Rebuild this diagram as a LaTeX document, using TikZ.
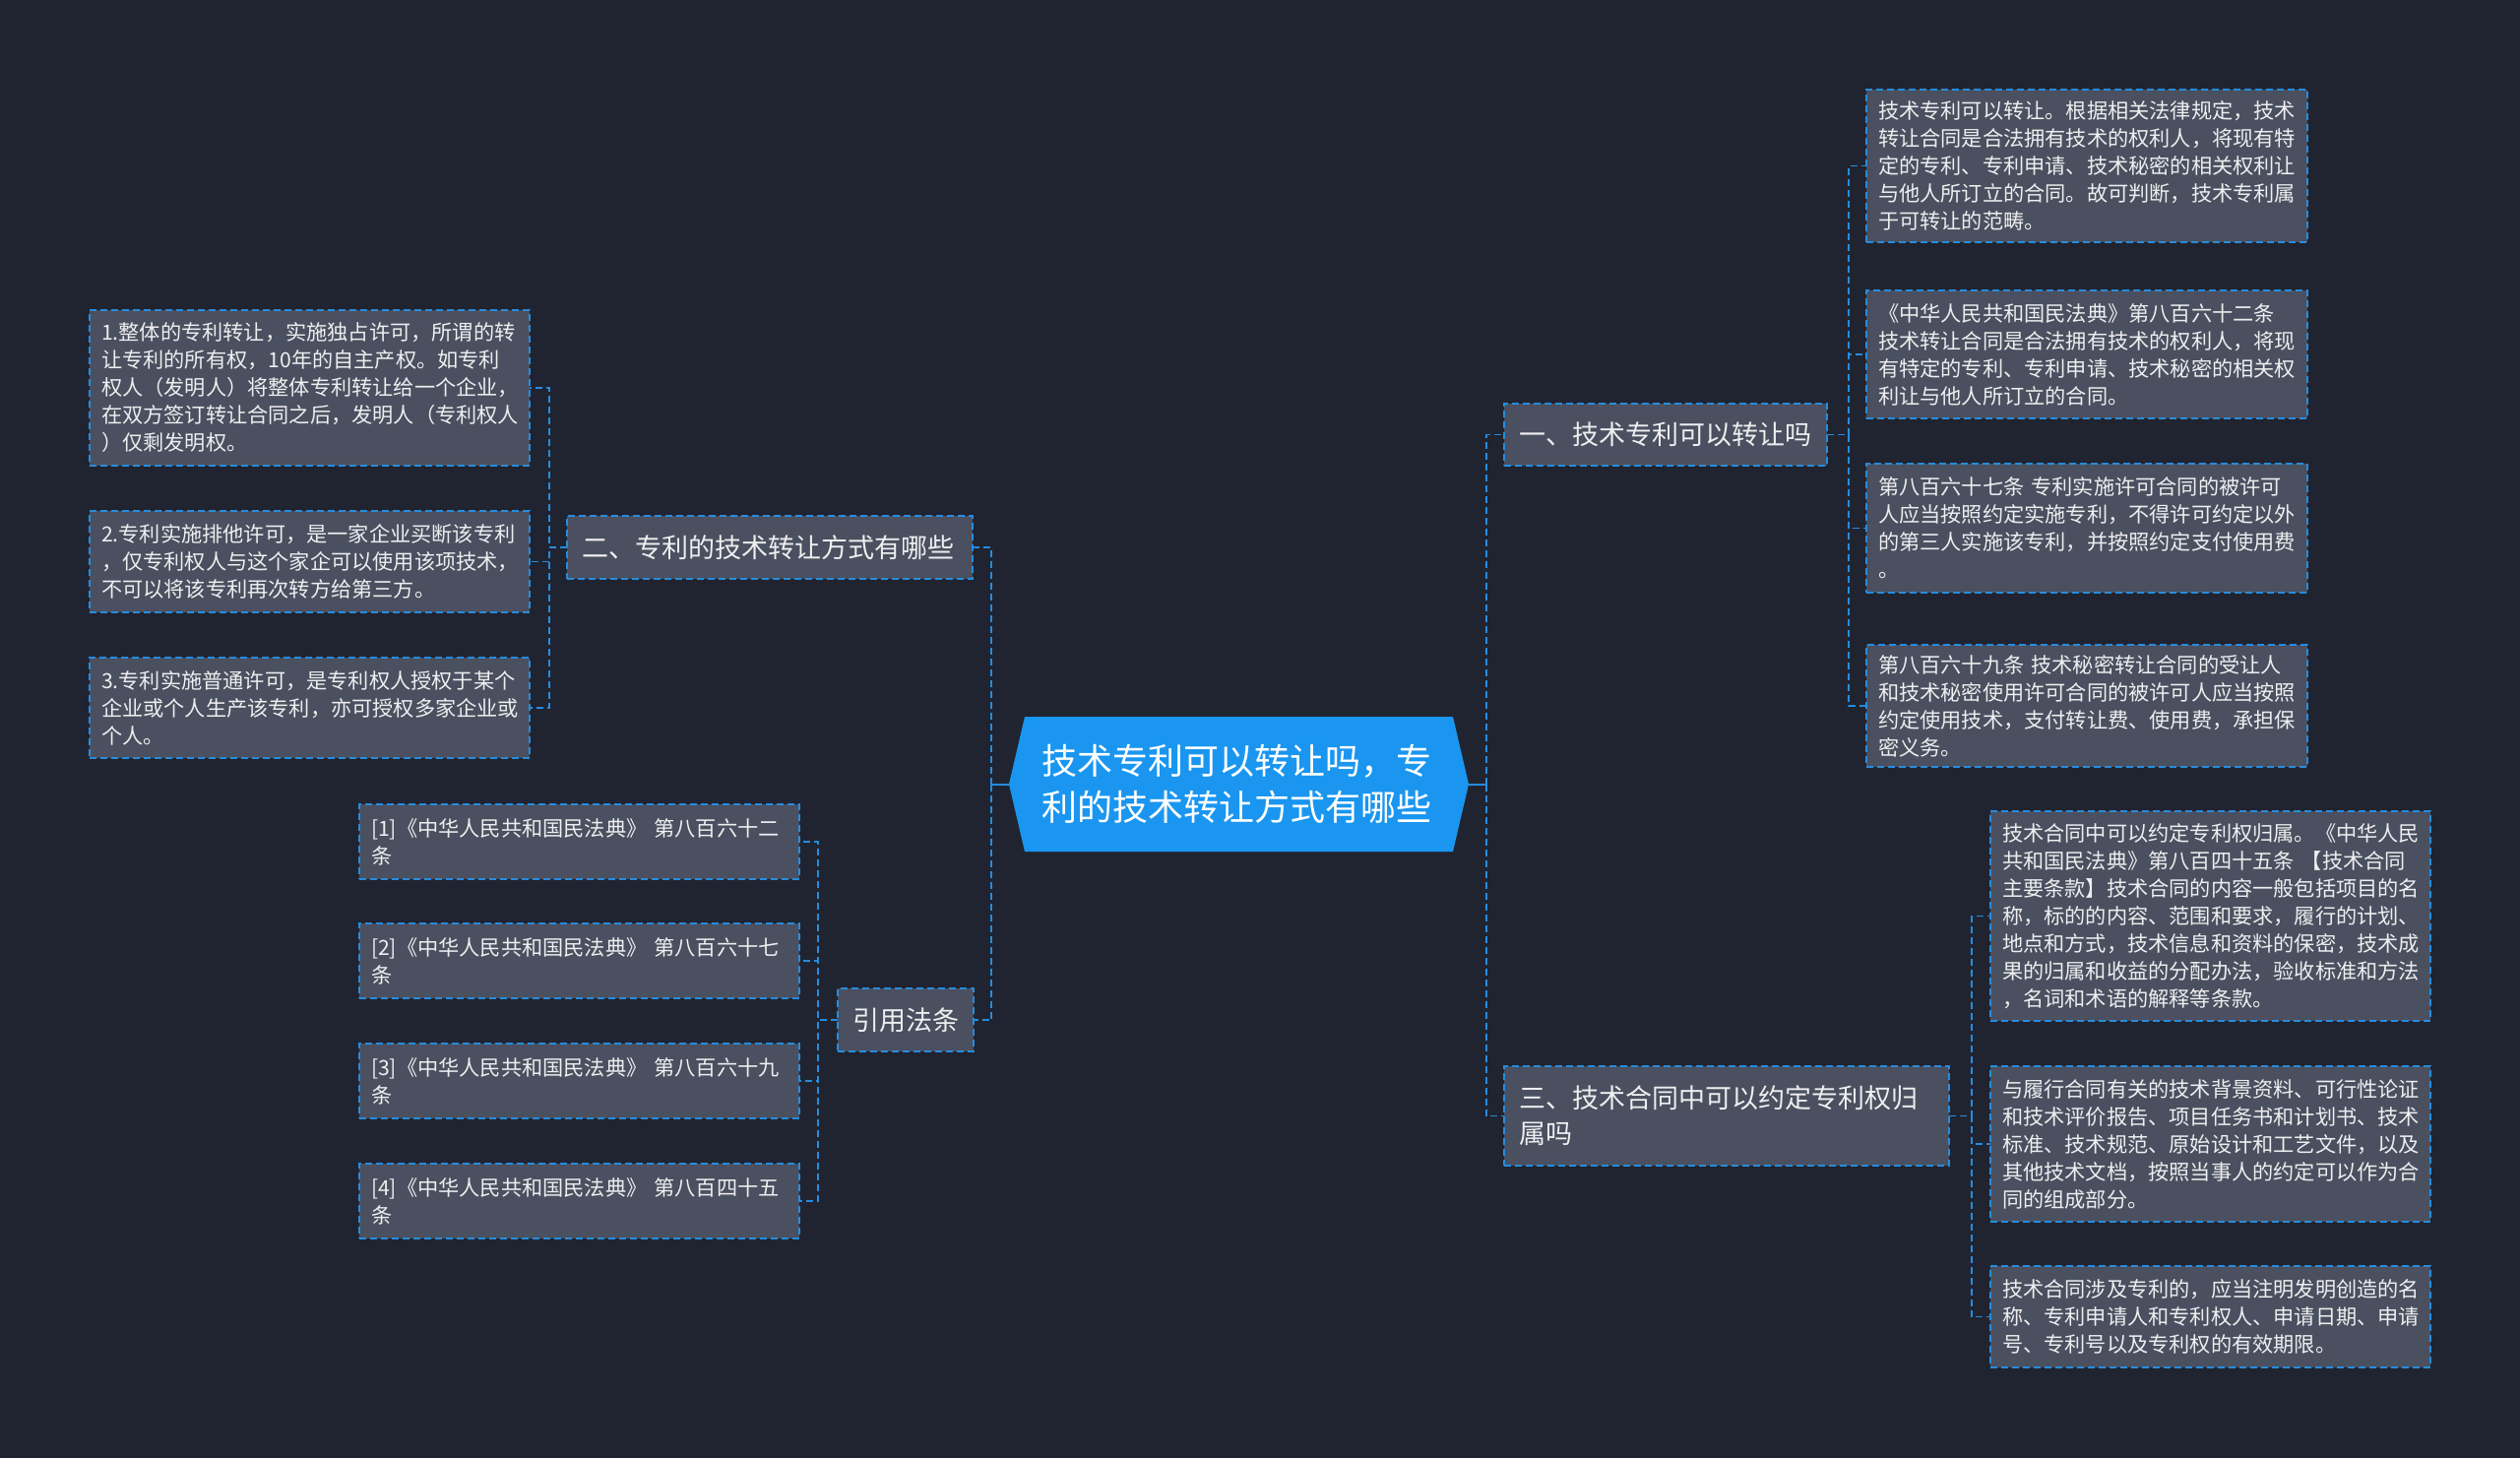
\documentclass[tikz,border=0pt]{standalone}
\usepackage{fontspec}
\setmainfont{Noto Sans CJK SC}
\definecolor{bgc}{RGB}{32,36,48}
\definecolor{boxc}{RGB}{74,80,95}
\definecolor{bordc}{RGB}{38,140,222}
\definecolor{rootc}{RGB}{26,150,240}
\definecolor{txtc}{RGB}{238,238,240}
\tikzset{
  box/.style={draw=bordc, fill=boxc, line width=1.6pt, dash pattern=on 7pt off 4pt,
    text=txtc, align=left, anchor=north west, inner ysep=0pt, outer sep=0pt},
  leafbox/.style={box, font=\fontsize{21.2}{28}\selectfont, inner xsep=12pt},
  mainbox/.style={box, font=\fontsize{27}{36}\selectfont, inner xsep=15pt},
  roottext/.style={text=white, font=\fontsize{36}{47}\selectfont, align=left,
    text width=400pt, inner xsep=33.5pt, inner ysep=0pt, minimum height=137pt, outer sep=0pt},
  conn/.style={draw=bordc, line width=1.8pt, dash pattern=on 7pt off 4pt},
  rootstub/.style={draw=bordc, line width=2pt},
}
\begin{document}
\begin{tikzpicture}[x=1pt, y=-1pt]
\useasboundingbox (0,0) rectangle (2560,1481);
\fill[bgc] (0,0) rectangle (2560,1481);

% root
\fill[rootc] (1025,796.5) -- (1041,728) -- (1476,728) -- (1492,796.5) -- (1476,865) -- (1041,865) -- cycle;
\node[roottext] (root) at (1258.5,796.5) {技术专利可以转让吗，专\\利的技术转让方式有哪些};

% level 1
\node[mainbox, text width=298pt, minimum height=63pt] (one) at (1528,410) {一、技术专利可以转让吗};
\node[mainbox, text width=422pt, minimum height=101pt] (three) at (1528,1083) {三、技术合同中可以约定专利权归\\属吗};
\node[mainbox, text width=382pt, minimum height=64pt] (two) at (576,524) {二、专利的技术转让方式有哪些};
\node[mainbox, text width=108pt, minimum height=64pt] (cite) at (851,1004) {引用法条};

% leaves of one
\node[leafbox, text width=424pt, minimum height=155pt] (r1) at (1896,91) {技术专利可以转让。根据相关法律规定，技术\\转让合同是合法拥有技术的权利人，将现有特\\定的专利、专利申请、技术秘密的相关权利让\\与他人所订立的合同。故可判断，技术专利属\\于可转让的范畴。};
\node[leafbox, text width=424pt, minimum height=130pt] (r2) at (1896,295) {《中华人民共和国民法典》第八百六十二条\\技术转让合同是合法拥有技术的权利人，将现\\有特定的专利、专利申请、技术秘密的相关权\\利让与他人所订立的合同。};
\node[leafbox, text width=424pt, minimum height=131pt] (r3) at (1896,471) {第八百六十七条 专利实施许可合同的被许可\\人应当按照约定实施专利，不得许可约定以外\\的第三人实施该专利，并按照约定支付使用费\\。};
\node[leafbox, text width=424pt, minimum height=124pt] (r4) at (1896,655) {第八百六十九条 技术秘密转让合同的受让人\\和技术秘密使用许可合同的被许可人应当按照\\约定使用技术，支付转让费、使用费，承担保\\密义务。};

% leaves of three
\node[leafbox, text width=423pt, minimum height=213pt] (t1) at (2022,824) {技术合同中可以约定专利权归属。《中华人民\\共和国民法典》第八百四十五条 【技术合同\\主要条款】技术合同的内容一般包括项目的名\\称，标的的内容、范围和要求，履行的计划、\\地点和方式，技术信息和资料的保密，技术成\\果的归属和收益的分配办法，验收标准和方法\\，名词和术语的解释等条款。};
\node[leafbox, text width=423pt, minimum height=158pt] (t2) at (2022,1083) {与履行合同有关的技术背景资料、可行性论证\\和技术评价报告、项目任务书和计划书、技术\\标准、技术规范、原始设计和工艺文件，以及\\其他技术文档，按照当事人的约定可以作为合\\同的组成部分。};
\node[leafbox, text width=423pt, minimum height=103pt] (t3) at (2022,1286) {技术合同涉及专利的，应当注明发明创造的名\\称、专利申请人和专利权人、申请日期、申请\\号、专利号以及专利权的有效期限。};

% leaves of two
\node[leafbox, text width=423pt, minimum height=158pt] (l1) at (91,315) {1.整体的专利转让，实施独占许可，所谓的转\\让专利的所有权，10年的自主产权。如专利\\权人（发明人）将整体专利转让给一个企业，\\在双方签订转让合同之后，发明人（专利权人\\）仅剩发明权。};
\node[leafbox, text width=423pt, minimum height=103pt] (l2) at (91,519) {2.专利实施排他许可，是一家企业买断该专利\\，仅专利权人与这个家企可以使用该项技术，\\不可以将该专利再次转方给第三方。};
\node[leafbox, text width=423pt, minimum height=102pt] (l3) at (91,668) {3.专利实施普通许可，是专利权人授权于某个\\企业或个人生产该专利，亦可授权多家企业或\\个人。};

% citations
\node[leafbox, text width=423pt, minimum height=76pt] (c1) at (365,817) {[1]《中华人民共和国民法典》 第八百六十二\\条};
\node[leafbox, text width=423pt, minimum height=76pt] (c2) at (365,938) {[2]《中华人民共和国民法典》 第八百六十七\\条};
\node[leafbox, text width=423pt, minimum height=76pt] (c3) at (365,1060) {[3]《中华人民共和国民法典》 第八百六十九\\条};
\node[leafbox, text width=423pt, minimum height=76pt] (c4) at (365,1182) {[4]《中华人民共和国民法典》 第八百四十五\\条};

% junction x positions
\coordinate (jL) at (1007,0);
\coordinate (jR) at (1510,0);
\coordinate (jOne) at (1878,0);
\coordinate (jThree) at (2003,0);
\coordinate (jTwo) at (558,0);
\coordinate (jCite) at (831,0);

% connectors
\draw[rootstub] (root.west) -- (root.west -| jL);
\draw[rootstub] (root.east) -- (root.east -| jR);
\draw[conn] (root.west -| jL) |- (two.east);
\draw[conn] (root.west -| jL) |- (cite.east);
\draw[conn] (root.east -| jR) |- (one.west);
\draw[conn] (root.east -| jR) |- (three.west);

\foreach \c in {r1,r2,r3,r4}{\draw[conn] (one.east) -- (one.east -| jOne) |- (\c.west);}
\foreach \c in {t1,t2,t3}{\draw[conn] (three.east) -- (three.east -| jThree) |- (\c.west);}
\foreach \c in {l1,l2,l3}{\draw[conn] (two.west) -- (two.west -| jTwo) |- (\c.east);}
\foreach \c in {c1,c2,c3,c4}{\draw[conn] (cite.west) -- (cite.west -| jCite) |- (\c.east);}
\end{tikzpicture}
\end{document}
